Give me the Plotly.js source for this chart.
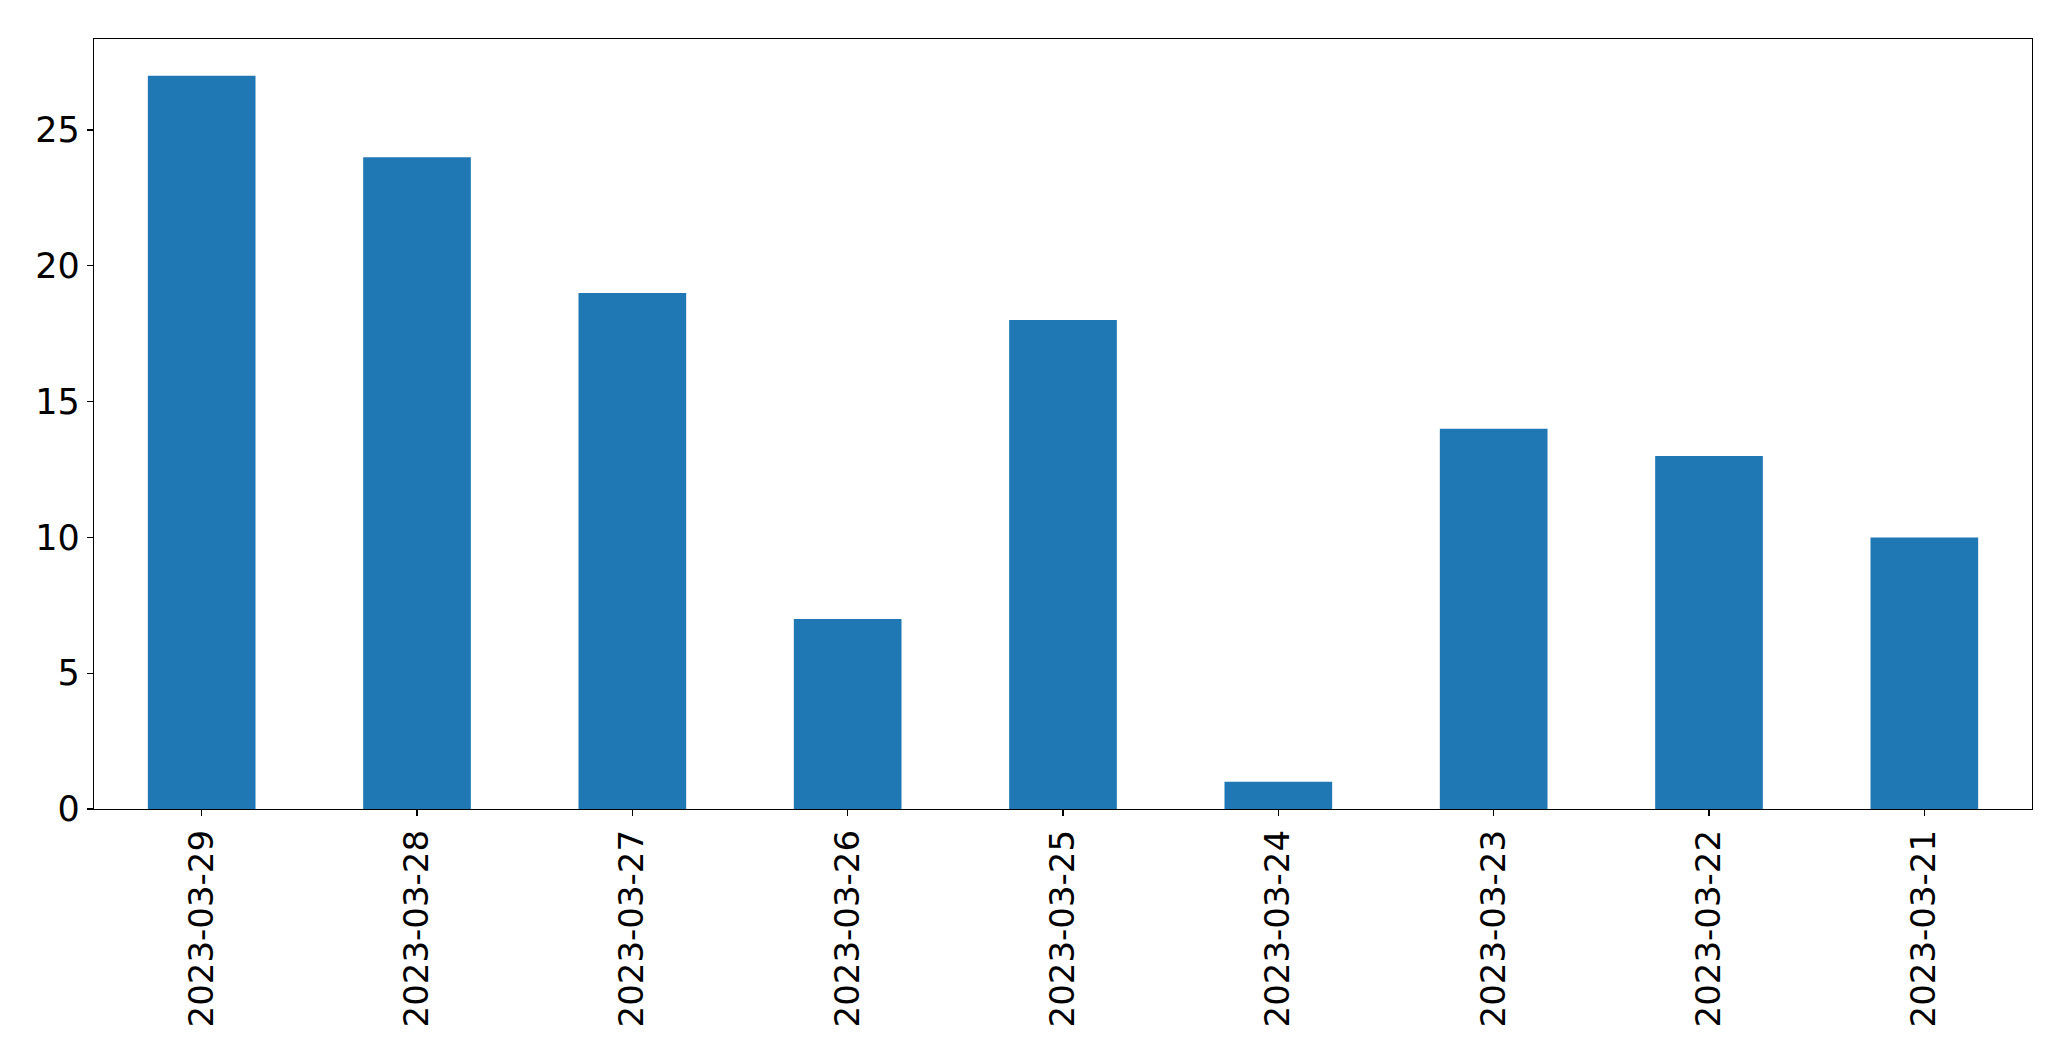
<!DOCTYPE html>
<html>
<head>
<meta charset="utf-8">
<script src="https://cdn.plot.ly/plotly-3.0.1.min.js"></script>
<style>html,body{margin:0;padding:0;background:#fff;}#chart{width:2071px;height:1061px;}</style>
</head>
<body>
<div id="chart"></div>
<script>
const dates = ["2023-03-29","2023-03-28","2023-03-27","2023-03-26","2023-03-25","2023-03-24","2023-03-23","2023-03-22","2023-03-21"];
const counts = [27, 24, 19, 7, 18, 1, 14, 13, 10];
const yTicks = [0, 5, 10, 15, 20, 25];

const trace = {
  type: 'bar',
  x: dates,
  y: counts,
  marker: {color: '#1f77b4', line: {width: 0}},
  hoverinfo: 'x+y'
};

const yfont = {family: 'DejaVu Sans, sans-serif', size: 35, color: '#000'};
const xfont = {family: 'DejaVu Sans, sans-serif', size: 34, color: '#000'};

const layout = {
  width: 2071, height: 1061,
  margin: {l: 94, r: 39, t: 39, b: 252, pad: 0},
  paper_bgcolor: '#fff', plot_bgcolor: '#fff',
  showlegend: false,
  bargap: 0.5,
  font: yfont,
  xaxis: {
    type: 'category',
    categoryorder: 'array', categoryarray: dates,
    range: [-0.5, 8.5],
    tickangle: -90,
    ticks: 'outside', ticklen: 6, tickwidth: 1.3, tickcolor: '#000',
    showline: true, mirror: true, linecolor: '#000', linewidth: 1.3,
    showgrid: false, zeroline: false,
    tickfont: xfont,
    automargin: false
  },
  yaxis: {
    range: [0, 28.35],
    tickvals: yTicks, ticktext: yTicks.map(String),
    ticks: 'outside', ticklen: 6, tickwidth: 1.3, tickcolor: '#000',
    showline: true, mirror: true, linecolor: '#000', linewidth: 1.3,
    showgrid: false, zeroline: false,
    tickfont: yfont,
    automargin: false
  }
};

Plotly.newPlot('chart', [trace], layout, {displayModeBar: false, staticPlot: true});
</script>
</body>
</html>
